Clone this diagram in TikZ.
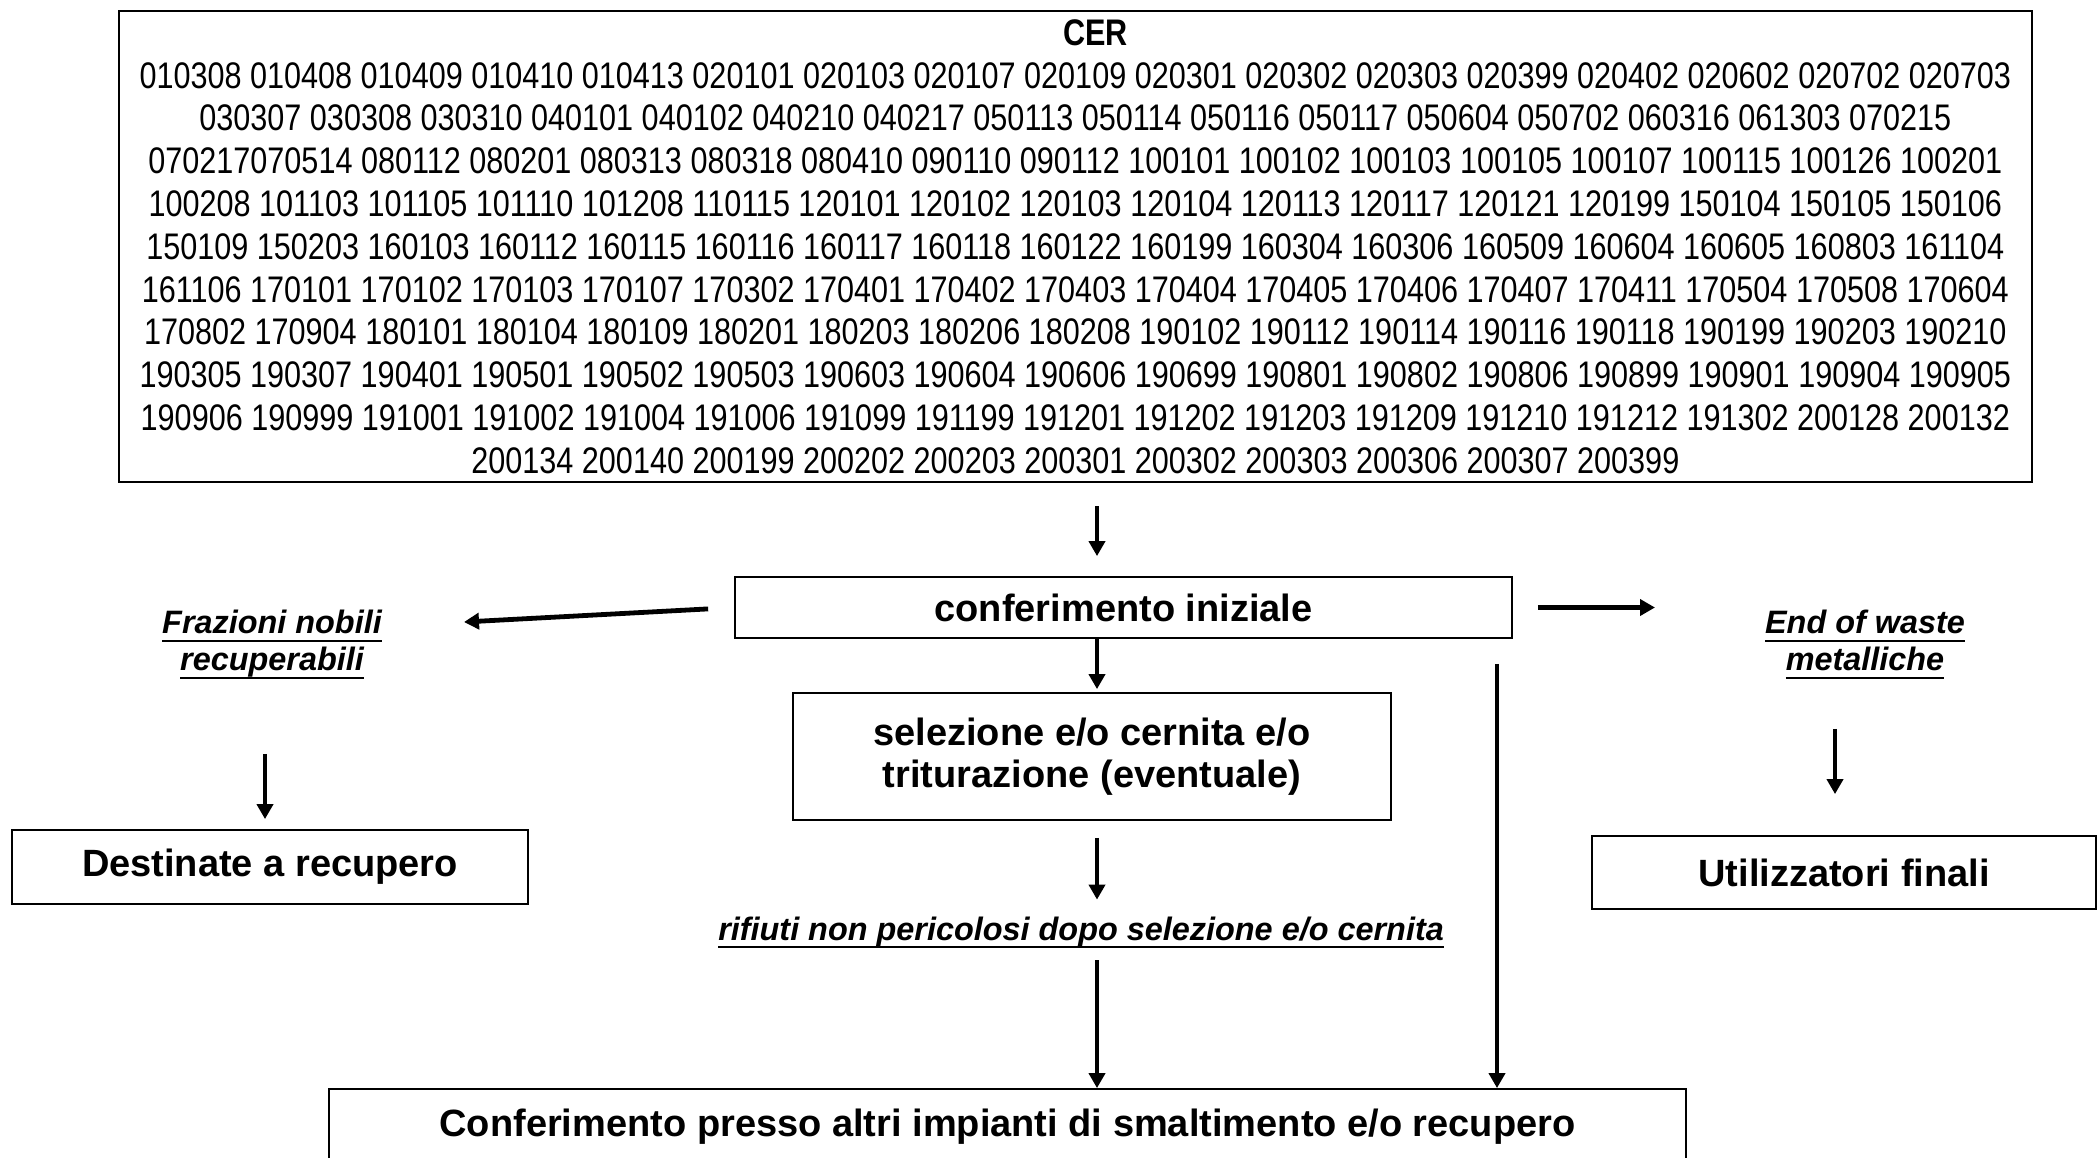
\documentclass[tikz,border=0pt]{standalone}
\usepackage{fontspec}
\setmainfont{Liberation Sans}
\newfontfamily\narrowfont[FakeStretch=0.827]{Liberation Sans}
\usetikzlibrary{arrows.meta}

% underline drawn at a fixed depth below the baseline
\newcommand{\lblul}[1]{\setbox0=\hbox{#1}\rlap{\rule[-3.8pt]{\wd0}{1pt}}\box0}

\tikzset{
  box/.style={draw, line width=0.9pt, inner sep=0pt, align=center,
    font=\bfseries\fontsize{19}{21}\selectfont},
  lbl/.style={inner sep=0pt, align=center,
    font=\bfseries\itshape\fontsize{16.2}{18.5}\selectfont},
  arr/.style={-{Triangle[length=7.5pt,width=8pt]}, line width=2pt},
  arrthick/.style={arr, line width=2.4pt},
}

\begin{document}
\begin{tikzpicture}[x=0.5pt,y=-0.5pt]
\useasboundingbox (0,0) rectangle (2098,1157);
\clip (0,0) rectangle (2098,1157);

% waste codes accepted
\node[box, line width=1.2pt, minimum width=956.5pt, minimum height=235.5pt,
  font=\narrowfont\fontsize{18.5}{21.4}\selectfont] (cer) at (1075.5,246.5) {%
\hspace*{20pt}\textbf{CER}\\
010308 010408 010409 010410 010413 020101 020103 020107 020109 020301 020302 020303 020399 020402 020602 020702 020703\\
030307 030308 030310 040101 040102 040210 040217 050113 050114 050116 050117 050604 050702 060316 061303 070215\\
070217070514 080112 080201 080313 080318 080410 090110 090112 100101 100102 100103 100105 100107 100115 100126 100201\\
100208 101103 101105 101110 101208 110115 120101 120102 120103 120104 120113 120117 120121 120199 150104 150105 150106\\
150109 150203 160103 160112 160115 160116 160117 160118 160122 160199 160304 160306 160509 160604 160605 160803 161104\\
161106 170101 170102 170103 170107 170302 170401 170402 170403 170404 170405 170406 170407 170411 170504 170508 170604\\
170802 170904 180101 180104 180109 180201 180203 180206 180208 190102 190112 190114 190116 190118 190199 190203 190210\\
190305 190307 190401 190501 190502 190503 190603 190604 190606 190699 190801 190802 190806 190899 190901 190904 190905\\
190906 190999 191001 191002 191004 191006 191099 191199 191201 191202 191203 191209 191210 191212 191302 200128 200132\\
200134 200140 200199 200202 200203 200301 200302 200303 200306 200307 200399};

% process steps
\node[box, minimum width=388.5pt, minimum height=30.5pt] (conf) at (1123.5,607.5) {conferimento iniziale};
\node[box, minimum width=299pt, minimum height=63.5pt] (sel) at (1092,756.5)
  {selezione e/o cernita e/o\\triturazione (eventuale)};
\node[box, minimum width=258pt, minimum height=37pt] (dest) at (270,867) {Destinate a recupero};
\node[box, minimum width=252pt, minimum height=36.5pt] (util) at (1844,872.5) {Utilizzatori finali};
\node[box, minimum width=678.5pt, minimum height=38pt] (bot) at (1007.5,1127)
  {Conferimento presso altri impianti di smaltimento e/o recupero};

% intermediate fractions
\node[lbl] (fraz) at (272,644.5) {\lblul{Frazioni nobili}\\\lblul{recuperabili}};
\node[lbl] (eow) at (1865,644.5) {\lblul{End of waste}\\\lblul{metalliche}};
\node[lbl, text height=12pt, text depth=4pt, anchor=base] (rif) at (1081,940)
  {\lblul{rifiuti non pericolosi dopo selezione e/o cernita}};

% connector axes and free ends
\coordinate (axis) at (1097,0);
\coordinate (longx) at (1497,0);
\coordinate (leftx) at (265,0);
\coordinate (rightx) at (1835,0);
\coordinate (fraztip) at (464,622);
\coordinate (eowtip) at (1655,607.5);

\draw[arr, shorten <=11.5pt, shorten >=10pt] (cer.south -| axis) -- (conf.north -| axis);
\draw[arr, shorten >=1.5pt] (conf.south -| axis) -- (sel.north -| axis);
\draw[arr, shorten <=8.5pt, shorten >=8pt] (sel.south -| axis) -- (rif.north -| axis);
\draw[arr, shorten <=6pt] (rif.south -| axis) -- (bot.north -| axis);
\draw[arrthick, shorten <=12.5pt] (conf.south -| longx) -- (bot.north -| longx);
\draw[arrthick, shorten <=13pt] (conf.west) -- (fraztip);
\draw[arrthick, shorten <=12.5pt] (conf.east) -- (eowtip);
\draw[arr, shorten <=37.5pt, shorten >=5pt] (fraz.south -| leftx) -- (dest.north -| leftx);
\draw[arr, shorten <=25pt, shorten >=20.5pt] (eow.south -| rightx) -- (util.north -| rightx);
\end{tikzpicture}
\end{document}
